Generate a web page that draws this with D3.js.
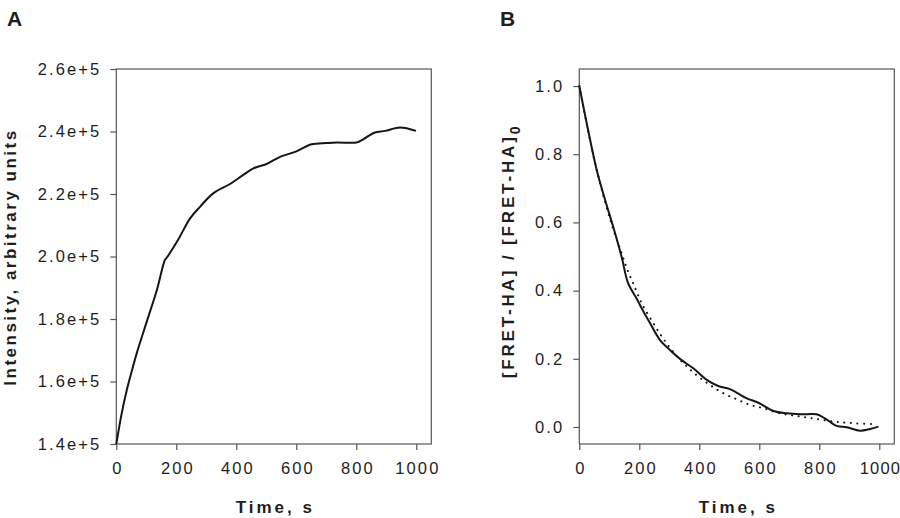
<!DOCTYPE html>
<html>
<head>
<meta charset="utf-8">
<script src="https://cdn.jsdelivr.net/npm/d3@7"></script>
<style>
  html, body { margin: 0; padding: 0; background: #fff; }
  svg { display: block; font-family: "Liberation Sans", Arial, sans-serif; }
</style>
</head>
<body>
<svg id="chart" width="900" height="518"></svg>
<script>
// ---- Panel A data ----
const timeA = [0, 18, 35, 51, 68, 101, 135, 162, 168, 207, 246, 279, 323, 379, 423, 457, 501, 546, 596, 651, 700, 735, 801, 823, 862, 896, 946, 999];
const intensityA = [140000, 149800, 157300, 163100, 169000, 179000, 189200, 198900, 199600, 205500, 212200, 215900, 220200, 223200, 226100, 228200, 229600, 231900, 233500, 235900, 236300, 236500, 236500, 237500, 239700, 240200, 241300, 240200];

// ---- Panel B data ----
const timeB = [0, 30, 58, 86, 113, 141, 163, 191, 202, 236, 269, 302, 341, 380, 425, 463, 502, 558, 597, 647, 691, 736, 791, 819, 858, 891, 936, 969, 997];
const ratioB = [1.0, 0.868, 0.754, 0.666, 0.587, 0.499, 0.421, 0.377, 0.358, 0.304, 0.255, 0.226, 0.196, 0.172, 0.138, 0.120, 0.111, 0.084, 0.071, 0.047, 0.040, 0.037, 0.037, 0.025, 0.003, -0.001, -0.011, -0.006, 0.001];
const timeFit = [0, 30, 58, 86, 113, 141, 163, 180, 208, 247, 275, 308, 347, 391, 436, 480, 525, 569, 613, 669, 725, 780, 847, 913, 991];
const ratioFit = [1.0, 0.865, 0.755, 0.66, 0.58, 0.51, 0.455, 0.421, 0.363, 0.304, 0.265, 0.226, 0.187, 0.152, 0.123, 0.099, 0.081, 0.065, 0.055, 0.040, 0.032, 0.025, 0.016, 0.011, 0.008];

// ---- Tick values ----
const xTicks = [0, 200, 400, 600, 800, 1000];
const yTicksA = [140000, 160000, 180000, 200000, 220000, 240000, 260000];
const yTicksB = [0.0, 0.2, 0.4, 0.6, 0.8, 1.0];

const svg = d3.select("#chart");
const frameColor = "#555";
const textColor = "#1e1e1e";
const lineColor = "#161616";
const tickLS = 2.1;

function panel(opts) {
  const { x, y, yTicks, yFmt, letter, letterX, ylabelX, ylabelY, ylabelLS, ylabel, lastTickLS } = opts;
  const g = svg.append("g");
  const [x0, x1] = x.range();
  const [y0, y1] = y.range(); // y0 bottom, y1 top

  // frame
  g.append("rect")
    .attr("x", x0).attr("y", y1)
    .attr("width", x1 - x0).attr("height", y0 - y1)
    .attr("fill", "none").attr("stroke", frameColor).attr("stroke-width", 1.2);

  // y axis
  const ya = g.append("g").attr("transform", `translate(${x0},0)`)
    .call(d3.axisLeft(y).tickValues(yTicks).tickFormat(yFmt).tickSize(6).tickSizeOuter(0).tickPadding(9));
  ya.select(".domain").remove();
  ya.selectAll("line").attr("stroke", frameColor).attr("stroke-width", 1.2);
  ya.selectAll("text").attr("fill", textColor).style("font-size", "16.5px").style("letter-spacing", tickLS + "px")
    .attr("font-family", "Liberation Sans, Arial, sans-serif");

  // x axis
  const xa = g.append("g").attr("transform", `translate(0,${y0})`)
    .call(d3.axisBottom(x).tickValues(xTicks).tickFormat(d3.format("d")).tickSize(6).tickSizeOuter(0).tickPadding(12));
  xa.select(".domain").remove();
  xa.selectAll("line").attr("stroke", frameColor).attr("stroke-width", 1.2);
  xa.selectAll("text").attr("fill", textColor).style("font-size", "16.5px")
    .attr("font-family", "Liberation Sans, Arial, sans-serif")
    .each(function (d, i, nodes) {
      const ls = (i === nodes.length - 1 && lastTickLS != null) ? lastTickLS : tickLS;
      d3.select(this).style("letter-spacing", ls + "px").attr("dx", (ls / 2) + "px");
    });

  // x label
  g.append("text")
    .attr("x", (x0 + x1) / 2 + 1.5).attr("y", 513)
    .attr("text-anchor", "middle")
    .attr("fill", textColor)
    .style("font-size", "17px").style("font-weight", "bold").style("letter-spacing", "3px")
    .text("Time, s");

  // panel letter
  g.append("text")
    .attr("x", letterX).attr("y", 26)
    .attr("fill", textColor)
    .style("font-size", "21px").style("font-weight", "bold")
    .text(letter);

  // y label
  const yl = g.append("text")
    .attr("transform", `translate(${ylabelX},${ylabelY}) rotate(-90)`)
    .attr("text-anchor", "middle")
    .attr("fill", textColor)
    .style("font-size", "17px").style("font-weight", "bold").style("letter-spacing", ylabelLS + "px");
  ylabel(yl);
  return g;
}

// Panel A
const xA = d3.scaleLinear().domain([0, 1050]).range([116.3, 431.3]);
const yA = d3.scaleLinear().domain([140000, 260000]).range([444, 69]);
const gA = panel({
  x: xA, y: yA, yTicks: yTicksA, yFmt: d3.format(".1e"),
  letter: "A", letterX: 7, ylabelX: 16, ylabelY: 257, ylabelLS: 2.5,
  ylabel: t => t.text("Intensity, arbitrary units")
});
gA.append("path")
  .datum(timeA.map((t, i) => [t, intensityA[i]]))
  .attr("fill", "none").attr("stroke", lineColor).attr("stroke-width", 2)
  .attr("stroke-linejoin", "round")
  .attr("d", d3.line().x(d => xA(d[0])).y(d => yA(d[1])).curve(d3.curveCatmullRom.alpha(0.5)));

// Panel B
const xB = d3.scaleLinear().domain([0, 1050]).range([579.3, 894.3]);
const yB = d3.scaleLinear().domain([-0.05, 1.05]).range([444, 69]);
const gB = panel({
  x: xB, y: yB, yTicks: yTicksB, yFmt: d3.format(".1f"),
  letter: "B", letterX: 500, ylabelX: 514, ylabelY: 251, ylabelLS: 2.85, lastTickLS: 1.2,
  ylabel: t => {
    t.append("tspan").text("[FRET-HA] / [FRET-HA]");
    t.append("tspan").attr("dy", "6").style("font-size", "14px").text("0");
  }
});
gB.append("path")
  .datum(timeFit.map((t, i) => [t, ratioFit[i]]))
  .attr("fill", "none").attr("stroke", lineColor).attr("stroke-width", 2)
  .attr("stroke-linecap", "round")
  .attr("stroke-dasharray", "0.1,6.5")
  .attr("d", d3.line().x(d => xB(d[0])).y(d => yB(d[1])).curve(d3.curveCatmullRom.alpha(0.5)));
gB.append("path")
  .datum(timeB.map((t, i) => [t, ratioB[i]]))
  .attr("fill", "none").attr("stroke", lineColor).attr("stroke-width", 2)
  .attr("stroke-linejoin", "round")
  .attr("d", d3.line().x(d => xB(d[0])).y(d => yB(d[1])).curve(d3.curveCatmullRom.alpha(0.5)));
</script>
</body>
</html>
